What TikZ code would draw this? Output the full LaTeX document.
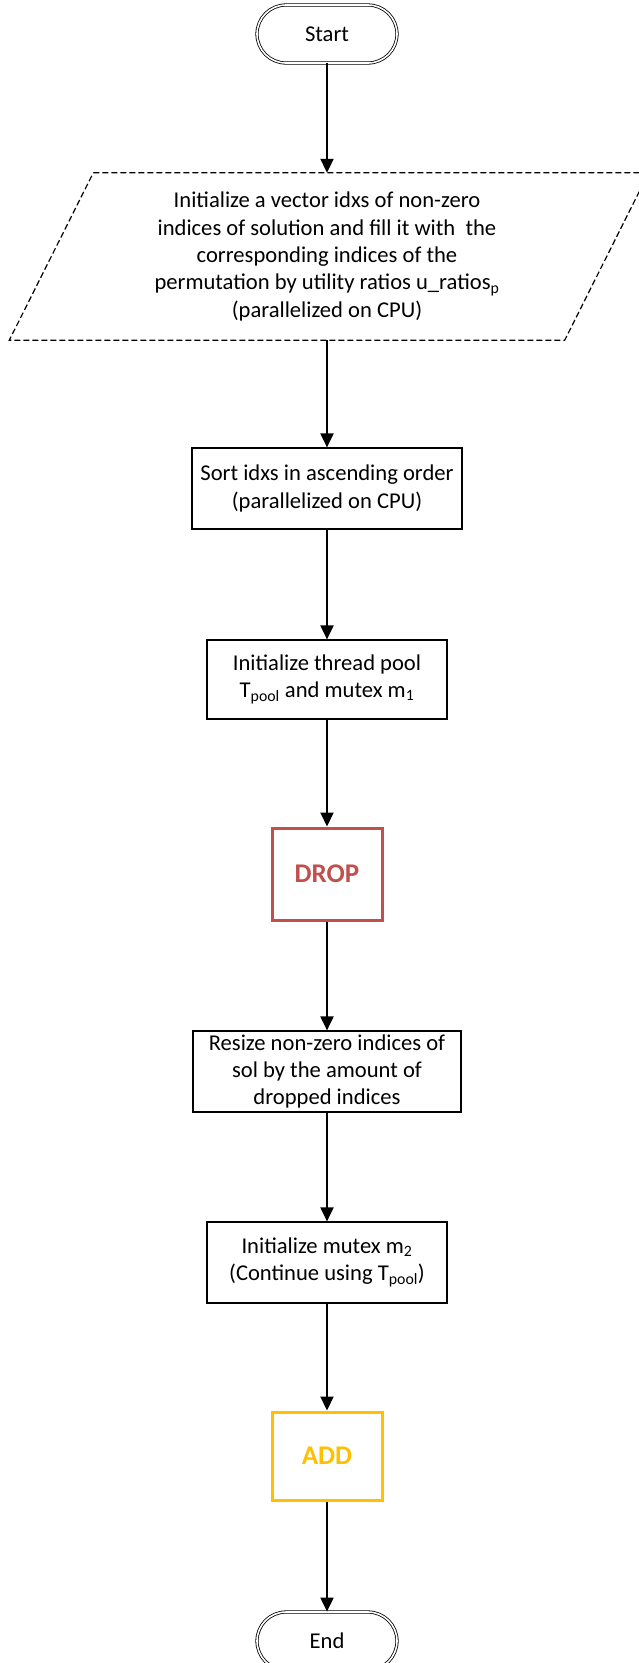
\documentclass[tikz,border=0pt]{standalone}
\usepackage{fontspec}
\setmainfont{Carlito}
\usetikzlibrary{arrows.meta}
\definecolor{dropred}{RGB}{192,80,77}
\definecolor{addgold}{RGB}{255,192,0}
\begin{document}
\begin{tikzpicture}[x=1pt,y=-1pt,
  font=\fontsize{22.6}{27.4}\selectfont,
  box/.style={draw, line width=1.2pt, align=center, inner sep=0pt},
  term/.style={draw, double, double distance=1.6pt, line width=0.8pt, rounded corners=29pt, minimum width=140pt, minimum height=58pt, inner sep=0pt},
  algo/.style={draw, line width=3pt, minimum width=110pt, font=\fontsize{27}{32}\selectfont\bfseries, inner sep=0pt},
  conn/.style={line width=2pt, -{Triangle[width=13pt,length=14pt]}}]
\useasboundingbox (0,0) rectangle (638,1663);

\node[term] (start) at (327,34) {Start};
\node[align=center, minimum width=555pt, minimum height=167pt, inner sep=0pt] (init) at (327,256.5)
  {Initialize a vector idxs of non-zero\\
   indices of solution and fill it with \ the\\
   corresponding indices of the\\
   permutation by utility ratios u\_ratios\textsubscript{p}\\
   (parallelized on CPU)};
\draw[line width=1.2pt, dash pattern=on 6pt off 3pt]
  ([xshift=44pt]init.north west) -- ([xshift=44pt]init.north east)
  -- ([xshift=-40pt]init.south east) -- ([xshift=-40pt]init.south west) -- cycle;
\node[box, minimum width=270pt, minimum height=81pt] (sort) at (327,488.5)
  {Sort idxs in ascending order\\ (parallelized on CPU)};
\node[box, minimum width=240pt, minimum height=79pt] (pool) at (327,679.5)
  {Initialize thread pool\\ T\textsubscript{pool} and mutex m\textsubscript{1}};
\node[algo, draw=dropred, text=dropred, minimum height=92pt] (drop) at (327,874) {DROP};
\node[box, minimum width=268pt, minimum height=81pt] (resize) at (327,1071.5)
  {Resize non-zero indices of\\ sol by the amount of\\ dropped indices};
\node[box, minimum width=240pt, minimum height=81pt] (mutex) at (327,1262.5)
  {Initialize mutex m\textsubscript{2}\\ (Continue using T\textsubscript{pool})};
\node[algo, draw=addgold, text=addgold, minimum height=88pt] (add) at (327,1456) {ADD};
\node[term] (end) at (327,1641) {End};

\draw[conn] (start) -- (init);
\draw[conn] (init) -- (sort);
\draw[conn] (sort) -- (pool);
\draw[conn] (pool) -- (drop);
\draw[conn] (drop) -- (resize);
\draw[conn] (resize) -- (mutex);
\draw[conn] (mutex) -- (add);
\draw[conn] (add) -- (end);
\end{tikzpicture}
\end{document}
